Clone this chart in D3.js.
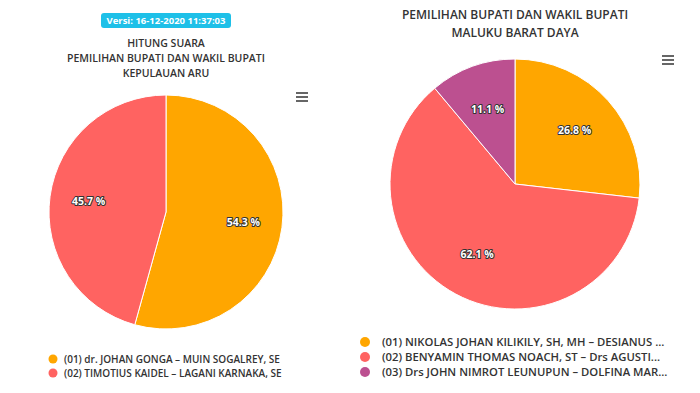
<!DOCTYPE html>
<html>
<head>
<meta charset="utf-8">
<script src="https://cdn.jsdelivr.net/npm/d3@7"></script>
<style>
  body { margin: 0; background: #fff; }
  svg text { font-family: "Open Sans", sans-serif; }
</style>
</head>
<body>
<div id="d3-container"></div>
<script>
/**
 * CONSTANTS AND DATA
 * */
const width = 700, height = 393;

const versionLabel = "Versi: 16-12-2020 11:37:03";

// left chart - Kepulauan Aru
const aruTitle = ["HITUNG SUARA", "PEMILIHAN BUPATI DAN WAKIL BUPATI", "KEPULAUAN ARU"];
const aruNames = [
  "(01) dr. JOHAN GONGA – MUIN SOGALREY, SE",
  "(02) TIMOTIUS KAIDEL – LAGANI KARNAKA, SE"
];
const aruValues = [54.3, 45.7];

// right chart - Maluku Barat Daya
const mbdTitle = ["PEMILIHAN BUPATI DAN WAKIL BUPATI", "MALUKU BARAT DAYA"];
const mbdNames = [
  "(01) NIKOLAS JOHAN KILIKILY, SH, MH – DESIANUS ...",
  "(02) BENYAMIN THOMAS NOACH, ST – Drs AGUSTI...",
  "(03) Drs JOHN NIMROT LEUNUPUN – DOLFINA MAR..."
];
const mbdValues = [26.8, 62.1, 11.1];

const palette = ["#ffa600", "#ff6361", "#bc5090"];

const svg = d3.select("#d3-container")
  .append("svg")
  .attr("width", width)
  .attr("height", height);

// version badge
const badge = svg.append("g").attr("transform", "translate(166, 20.5)");
badge.append("rect")
  .attr("x", -65).attr("y", -7.5)
  .attr("width", 130).attr("height", 15)
  .attr("rx", 3)
  .attr("fill", "#1ec0e8");
badge.append("text")
  .attr("text-anchor", "middle")
  .attr("dy", "0.35em")
  .attr("fill", "#fff")
  .attr("font-size", 9.5)
  .attr("font-weight", 700)
  .text(versionLabel);

/**
 * draws one pie chart with title, labels, legend and menu icon
 * */
function drawPie(opts) {
  const g = svg.append("g");

  // title lines
  g.selectAll("text.title")
    .data(opts.title)
    .join("text")
    .attr("class", "title")
    .attr("x", opts.cx)
    .attr("y", (d, i) => opts.titleY + i * opts.titleGap)
    .attr("text-anchor", "middle")
    .attr("dy", "0.35em")
    .attr("fill", "#333")
    .attr("font-size", opts.titleSize)
    .attr("font-weight", 600)
    .text(d => d);

  const pie = d3.pie().sort(null).value(d => d);
  const arcs = pie(opts.values);
  const arc = d3.arc().innerRadius(0).outerRadius(opts.r);
  const labelArc = d3.arc().innerRadius(opts.labelR).outerRadius(opts.labelR);

  const pieG = g.append("g").attr("transform", `translate(${opts.cx}, ${opts.cy})`);
  pieG.selectAll("path")
    .data(arcs)
    .join("path")
    .attr("d", arc)
    .attr("fill", (d, i) => palette[i])
    .attr("stroke", "#fff")
    .attr("stroke-width", 1);

  // data labels with dark outline
  pieG.selectAll("text.label")
    .data(arcs)
    .join("text")
    .attr("class", "label")
    .attr("transform", d => `translate(${labelArc.centroid(d)})`)
    .attr("text-anchor", "middle")
    .attr("dy", "0.35em")
    .attr("font-size", 10.5)
    .attr("font-weight", 700)
    .attr("fill", "#fff")
    .attr("stroke", "#333")
    .attr("stroke-width", 2)
    .attr("paint-order", "stroke")
    .attr("stroke-linejoin", "round")
    .text(d => d3.format(".1f")(d.data) + " %");

  // legend
  const legend = g.selectAll("g.legend")
    .data(opts.names)
    .join("g")
    .attr("class", "legend")
    .attr("transform", (d, i) => `translate(${opts.legendX}, ${opts.legendY + i * opts.legendGap})`);
  legend.append("circle")
    .attr("r", opts.dotR)
    .attr("fill", (d, i) => palette[i]);
  legend.append("text")
    .attr("x", opts.textOffset)
    .attr("dy", "0.35em")
    .attr("fill", "#333")
    .attr("font-size", opts.legendSize)
    .attr("font-weight", 600)
    .text(d => d);

  // hamburger menu icon
  const menu = g.append("g").attr("transform", `translate(${opts.menuX}, ${opts.menuY})`);
  menu.selectAll("line")
    .data([-4, 0, 4])
    .join("line")
    .attr("x1", -6).attr("x2", 6)
    .attr("y1", d => d).attr("y2", d => d)
    .attr("stroke", "#666")
    .attr("stroke-width", 2);
}

drawPie({
  title: aruTitle, names: aruNames, values: aruValues,
  cx: 166, cy: 212, r: 117, labelR: 78,
  titleY: 43, titleGap: 15, titleSize: 10.5,
  legendX: 53, legendY: 359, legendGap: 14, dotR: 4.5, textOffset: 11, legendSize: 10,
  menuX: 302, menuY: 97
});

drawPie({
  title: mbdTitle, names: mbdNames, values: mbdValues,
  cx: 515, cy: 184, r: 125, labelR: 80,
  titleY: 15, titleGap: 18, titleSize: 12,
  legendX: 365, legendY: 342, legendGap: 15, dotR: 5, textOffset: 17, legendSize: 11.3,
  menuX: 668, menuY: 60
});
</script>
</body>
</html>
